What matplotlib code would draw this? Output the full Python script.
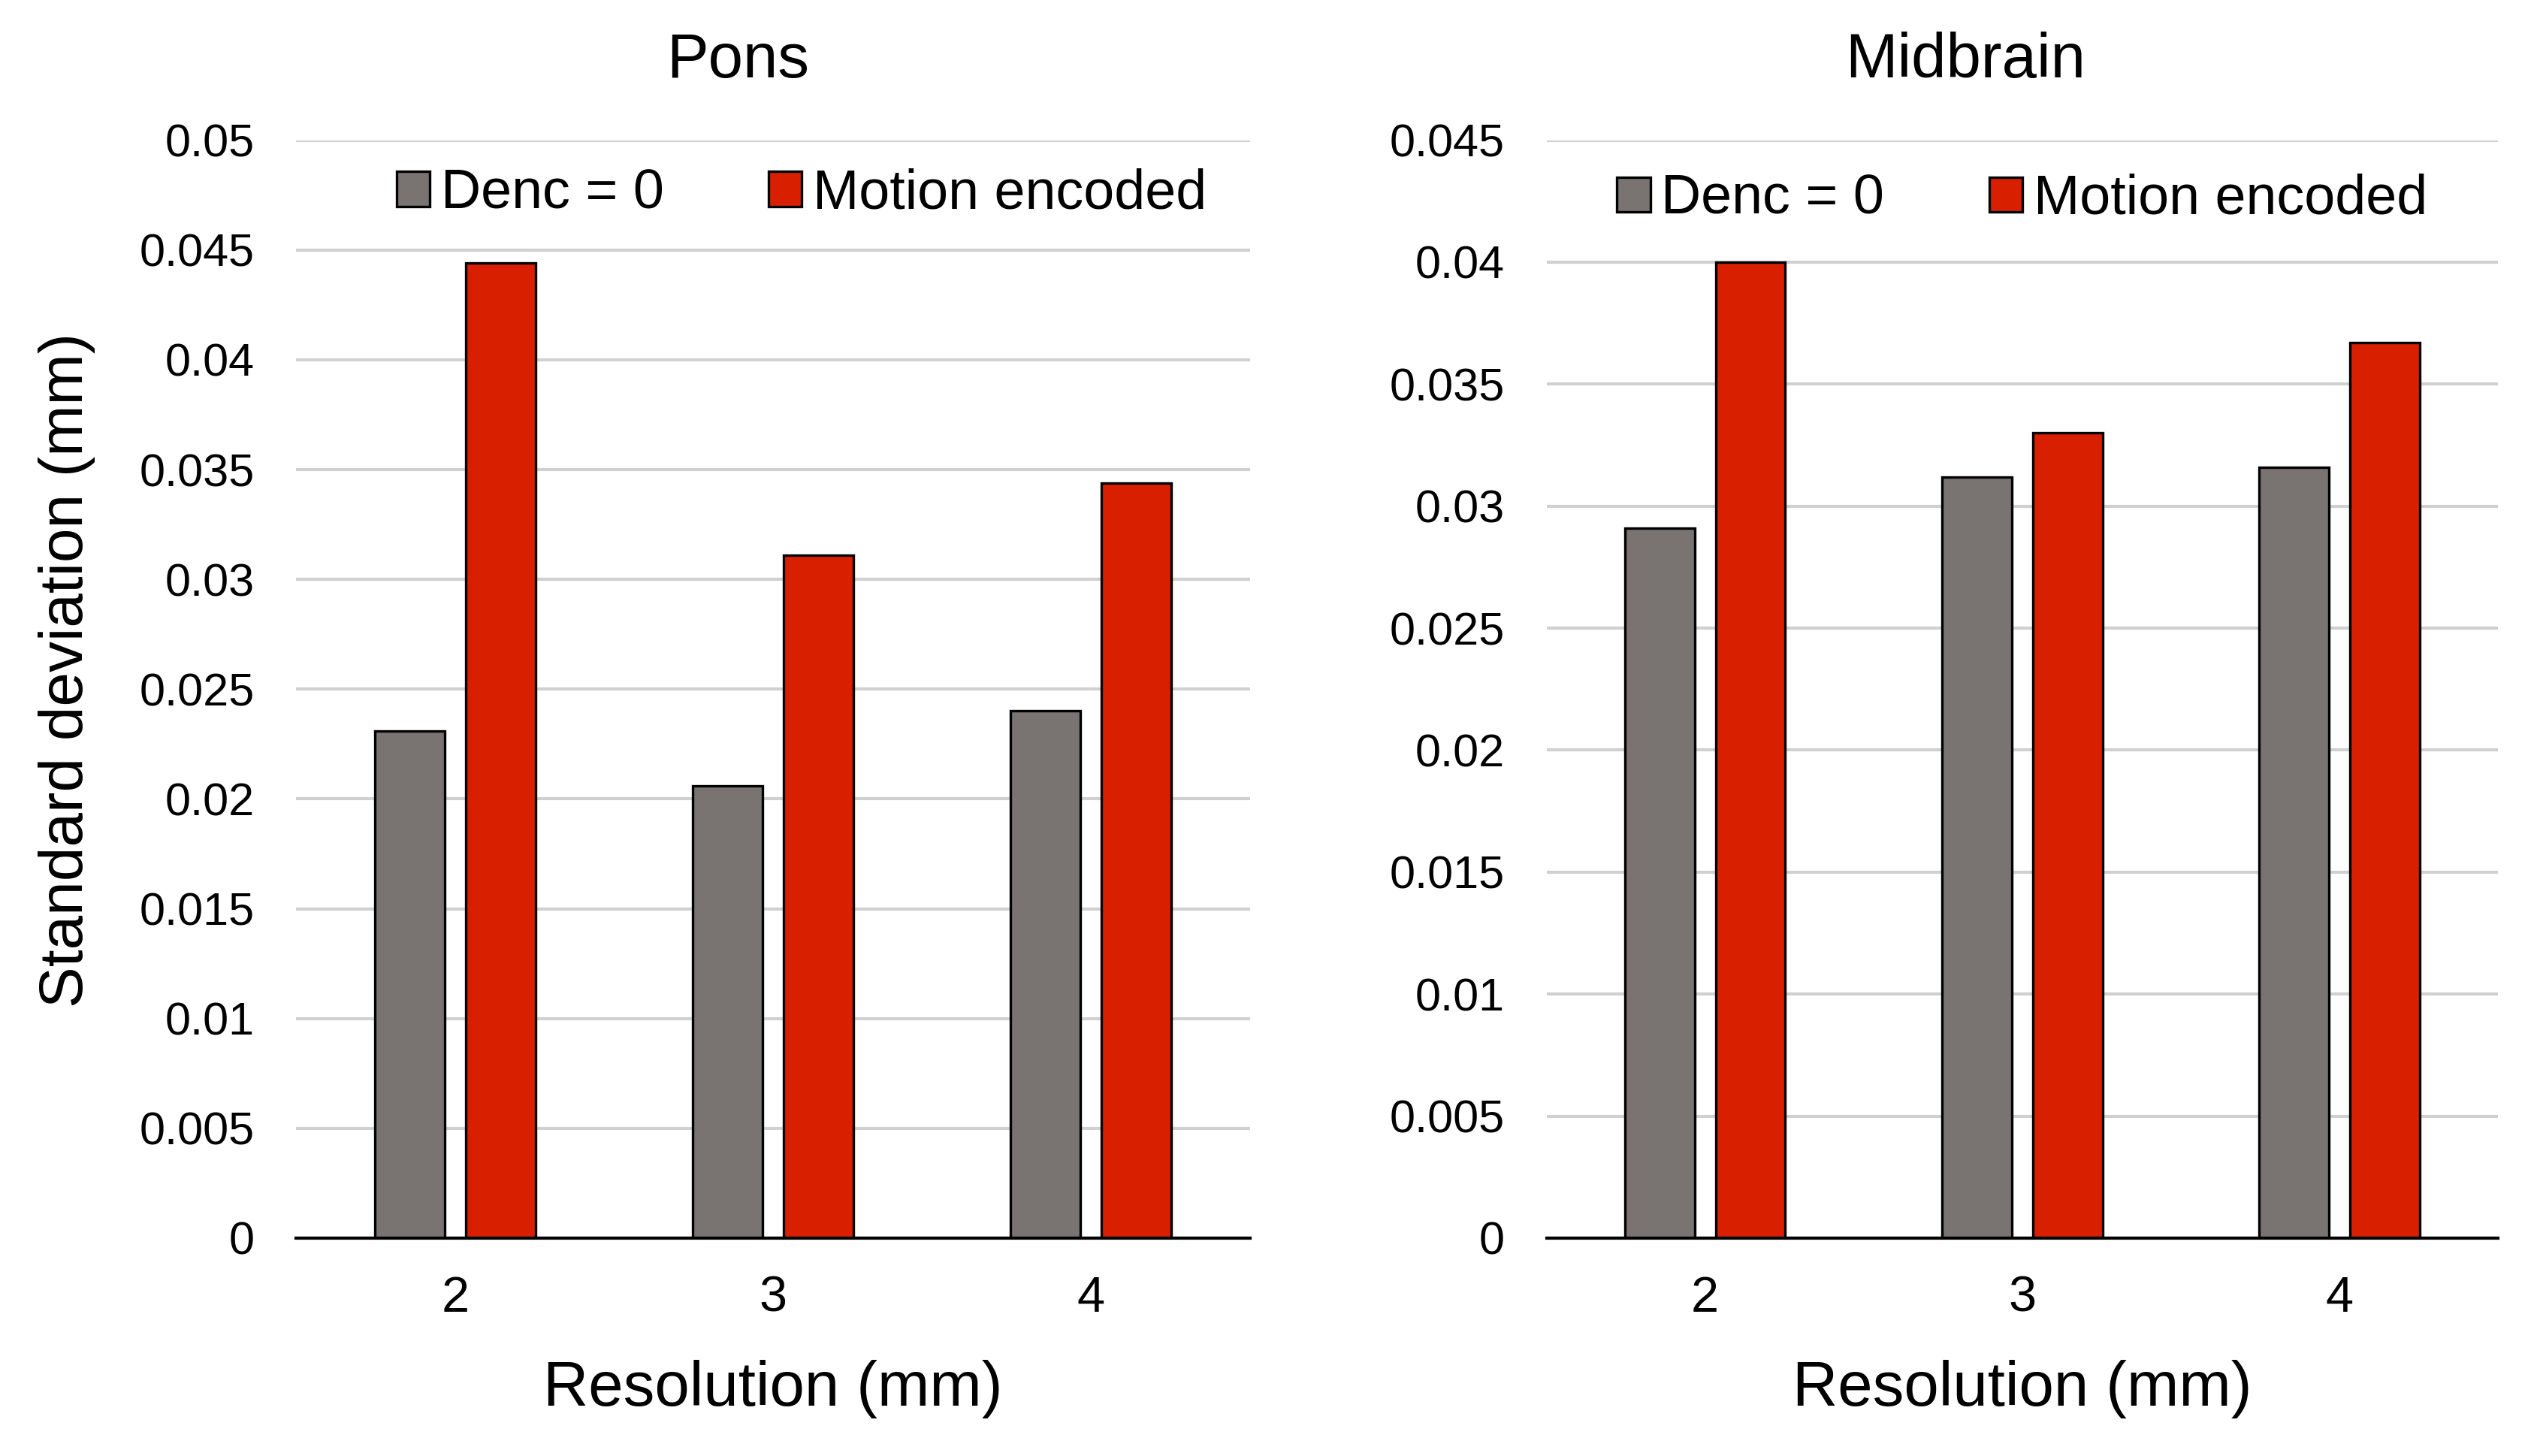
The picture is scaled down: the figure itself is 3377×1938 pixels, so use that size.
import matplotlib
matplotlib.use("Agg")
import matplotlib.pyplot as plt
from matplotlib.ticker import FuncFormatter, MultipleLocator
import numpy as np

plt.rcParams["font.family"] = ["Liberation Sans", "DejaVu Sans"]

resoluciones = ["2", "3", "4"]
series = ["Denc = 0", "Motion encoded"]

pons_denc0 = [0.0231, 0.0206, 0.0240]
pons_motion = [0.0444, 0.0311, 0.0344]
midbrain_denc0 = [0.0291, 0.0312, 0.0316]
midbrain_motion = [0.0400, 0.0330, 0.0367]

color_gris = "#797372"
color_rojo = "#D82000"


def dibujar_panel(ax, denc, motion, titulo, ymax, con_ylabel, x_titulo, ley_x, ley_y):
    x = np.arange(len(resoluciones))
    ancho = 0.22
    desfase = 0.143
    ax.bar(x - desfase, denc, ancho, color=color_gris, edgecolor="black",
           linewidth=1.2, label=series[0], zorder=3)
    ax.bar(x + desfase, motion, ancho, color=color_rojo, edgecolor="black",
           linewidth=1.2, label=series[1], zorder=3)
    ax.set_xlim(-0.5, len(resoluciones) - 0.5)
    ax.set_ylim(0, ymax)
    ax.yaxis.set_major_locator(MultipleLocator(0.005))
    ax.yaxis.set_major_formatter(FuncFormatter(lambda v, p: "%g" % round(v, 4)))
    ax.set_xticks(x)
    ax.set_xticklabels(resoluciones)
    ax.tick_params(axis="both", length=0, labelsize=22)
    ax.tick_params(axis="y", pad=20)
    ax.tick_params(axis="x", labelsize=24, pad=18)
    ax.grid(axis="y", color="#D0D0D0", linewidth=1.5, zorder=0)
    for lado in ["left", "right", "top"]:
        ax.spines[lado].set_visible(False)
    ax.spines["bottom"].set_linewidth(1.5)
    ax.spines["bottom"].set_zorder(4)
    ax.set_title(titulo, fontsize=30, pad=30, x=x_titulo)
    ax.set_xlabel("Resolution (mm)", fontsize=30, labelpad=18)
    if con_ylabel:
        ax.set_ylabel("Standard deviation (mm)", fontsize=29.5)
        ax.yaxis.set_label_coords(-0.21, 0.517)
    ax.legend(loc="upper center", bbox_to_anchor=(ley_x, ley_y), ncol=2,
              frameon=False, fontsize=26.5, handlelength=0.6,
              handleheight=0.6, handletextpad=0.2, columnspacing=1.9)


fig = plt.figure(figsize=(16.885, 9.69), dpi=200)
ax1 = fig.add_axes([0.1167, 0.1497, 0.376, 0.754])
ax2 = fig.add_axes([0.6096, 0.1497, 0.375, 0.754])

dibujar_panel(ax1, pons_denc0, pons_motion, "Pons", 0.05, True, 0.463, 0.53, 1.02)
dibujar_panel(ax2, midbrain_denc0, midbrain_motion, "Midbrain", 0.045, False, 0.44, 0.5, 1.015)

fig.savefig("out.png", dpi=200, facecolor="white")
